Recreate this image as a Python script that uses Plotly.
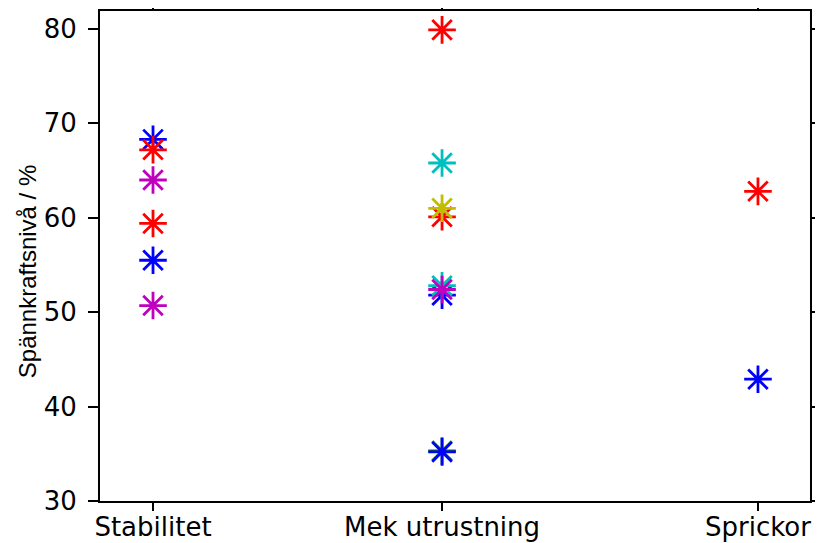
import plotly.graph_objects as go

categories = ["Stabilitet", "Mek utrustning", "Sprickor"]
y_ticks = [30, 40, 50, 60, 70, 80]

# series (MATLAB colour order), each: list of (category, value)
blue_cat = ["Stabilitet", "Stabilitet", "Mek utrustning", "Mek utrustning", "Sprickor"]
blue_val = [68.3, 55.5, 51.8, 35.2, 42.9]
green_cat = ["Mek utrustning"]
green_val = [35.3]
red_cat = ["Stabilitet", "Stabilitet", "Mek utrustning", "Mek utrustning", "Sprickor"]
red_val = [67.2, 59.4, 79.9, 60.1, 62.8]
cyan_cat = ["Mek utrustning", "Mek utrustning"]
cyan_val = [65.8, 52.8]
magenta_cat = ["Stabilitet", "Stabilitet", "Mek utrustning"]
magenta_val = [64.0, 50.7, 52.4]
olive_cat = ["Mek utrustning"]
olive_val = [61.0]

# horizontal placement of each category on the numeric axis (layout)
cat_pos = {"Stabilitet": 1.0, "Mek utrustning": 2.0, "Sprickor": 3.093}

series = [
    (green_cat, green_val, "rgb(0,128,0)"),
    (blue_cat, blue_val, "rgb(0,0,255)"),
    (red_cat, red_val, "rgb(255,0,0)"),
    (cyan_cat, cyan_val, "rgb(0,191,191)"),
    (magenta_cat, magenta_val, "rgb(191,0,191)"),
    (olive_cat, olive_val, "rgb(191,191,0)"),
]

fig = go.Figure()
for cats, vals, col in series:
    fig.add_trace(go.Scatter(
        x=[cat_pos[c] for c in cats], y=vals, mode="markers",
        marker=dict(symbol="asterisk-open", size=23, color=col,
                    line=dict(color=col, width=2.8)),
        showlegend=False, hoverinfo="skip"))

# the page places the figure 8 px from the top-left corner
fig.update_layout(
    width=815, height=535,
    margin=dict(l=92, r=13, t=3, b=42, autoexpand=False),
    paper_bgcolor="white", plot_bgcolor="white",
    font=dict(family="DejaVu Sans, Liberation Sans, Arial, sans-serif", size=26, color="black"),
)
fig.update_xaxes(
    range=[0.8166, 3.273], tickvals=[cat_pos[c] for c in categories], ticktext=categories,
    showgrid=False, zeroline=False, showline=True, linecolor="black", linewidth=2,
    mirror="ticks", ticks="outside", ticklen=8, tickwidth=1.5, tickcolor="black",
    tickfont=dict(size=26), ticklabelstandoff=-6, automargin=False,
)
fig.update_yaxes(
    range=[30, 81.9], tickvals=y_ticks,
    showgrid=False, zeroline=False, showline=True, linecolor="black", linewidth=2,
    mirror="ticks", ticks="outside", ticklen=10, tickwidth=1.5, tickcolor="black",
    tickfont=dict(size=26), ticklabelstandoff=6, automargin=False,
)
fig.add_annotation(
    text="Spännkraftsnivå / %", xref="paper", yref="paper",
    x=-0.1028, y=0.467, xanchor="center", yanchor="middle", textangle=-90,
    showarrow=False, font=dict(family="Liberation Sans, Arial", size=24, color="black"),
)
fig.write_html("out.html")
